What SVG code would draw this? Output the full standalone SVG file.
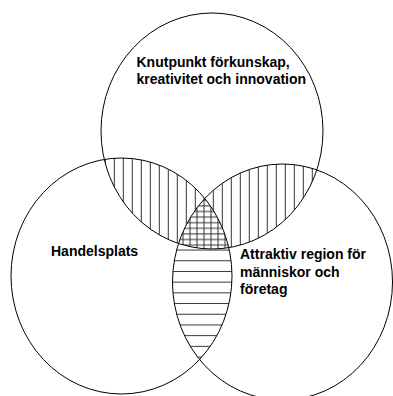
<svg xmlns="http://www.w3.org/2000/svg" width="393" height="396" viewBox="0 0 393 396">
  <style>
    .circle { fill: none; stroke: #000; stroke-width: 1; }
    .label { font-family: "Liberation Sans", Arial, sans-serif; font-weight: bold; font-size: 14px; fill: #000; }
    .hatch { stroke: #333; stroke-width: 1; }
  </style>
  <defs>
    <pattern id="pVert" patternUnits="userSpaceOnUse" x="1.8" y="0" width="9" height="20">
      <line class="hatch" x1="4.5" y1="0" x2="4.5" y2="20"/>
    </pattern>
    <pattern id="pHorz" patternUnits="userSpaceOnUse" x="0" y="-1.4" width="20" height="10.7">
      <line class="hatch" x1="0" y1="5.35" x2="20" y2="5.35"/>
    </pattern>
    <pattern id="pCross" patternUnits="userSpaceOnUse" x="185.5" y="220" width="7" height="5.6">
      <line class="hatch" x1="4.5" y1="0" x2="4.5" y2="5.6"/>
      <line class="hatch" x1="0" y1="2.7" x2="7" y2="2.7"/>
    </pattern>
    <clipPath id="cT"><ellipse cx="212" cy="131" rx="111" ry="118"/></clipPath>
    <clipPath id="cL"><ellipse cx="121.5" cy="276" rx="110.5" ry="118"/></clipPath>
    <clipPath id="cR"><ellipse cx="282.5" cy="282" rx="110" ry="118"/></clipPath>
  </defs>

  <rect x="0" y="0" width="393" height="396" fill="#fff"/>

  <g id="hatching">
    <g clip-path="url(#cT)"><g clip-path="url(#cL)"><rect x="0" y="0" width="393" height="396" fill="url(#pVert)"/></g></g>
    <g clip-path="url(#cT)"><g clip-path="url(#cR)"><rect x="0" y="0" width="393" height="396" fill="url(#pVert)"/></g></g>
    <g clip-path="url(#cL)"><g clip-path="url(#cR)"><rect x="0" y="0" width="393" height="396" fill="url(#pHorz)"/></g></g>
    <g clip-path="url(#cT)"><g clip-path="url(#cL)"><g clip-path="url(#cR)">
      <rect x="0" y="0" width="393" height="396" fill="#fff"/>
      <rect x="0" y="0" width="393" height="396" fill="url(#pCross)"/>
    </g></g></g>
  </g>

  <g id="node-top">
    <ellipse class="circle" cx="212" cy="131" rx="111" ry="118"/>
    <text class="label" x="136.5" y="66.7">Knutpunkt förkunskap,</text>
    <text class="label" x="136.5" y="84.3">kreativitet och innovation</text>
  </g>

  <g id="node-left">
    <ellipse class="circle" cx="121.5" cy="276" rx="110.5" ry="118"/>
    <text class="label" x="51" y="256">Handelsplats</text>
  </g>

  <g id="node-right">
    <ellipse class="circle" cx="282.5" cy="282" rx="110" ry="118"/>
    <text class="label" x="240" y="259">Attraktiv region för</text>
    <text class="label" x="240" y="276.7">människor och</text>
    <text class="label" x="240" y="294">företag</text>
  </g>
</svg>
